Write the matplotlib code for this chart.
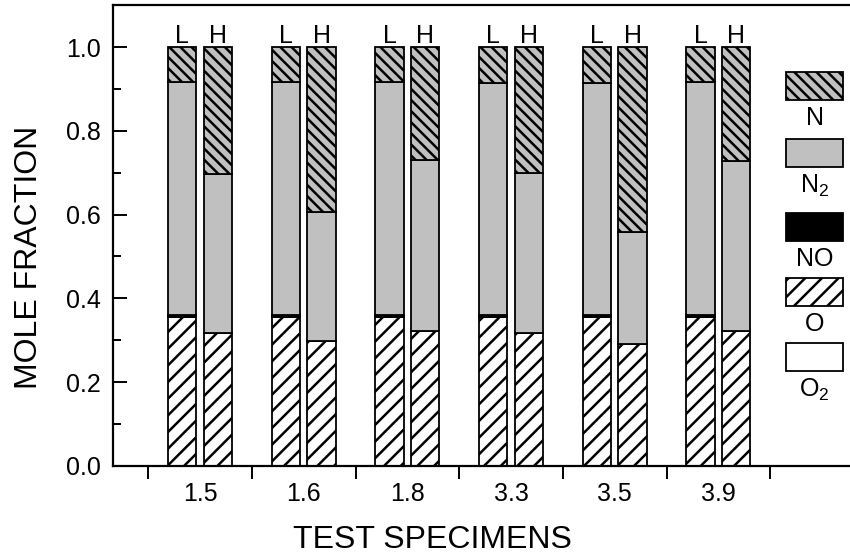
import matplotlib
matplotlib.use('Agg')
import matplotlib.pyplot as plt  # plotting
import numpy as np
from matplotlib.patches import Rectangle
from matplotlib.ticker import FixedLocator, MultipleLocator, FormatStrFormatter

plt.rcParams['font.family'] = ['Liberation Sans', 'DejaVu Sans']
plt.rcParams['hatch.linewidth'] = 1.8

# test specimens (x categories)
specimens = ['1.5', '1.6', '1.8', '3.3', '3.5', '3.9']

# L bars (mole fractions, bottom to top)
o2_L = [0.0, 0.0, 0.0, 0.0, 0.0, 0.0]
o_L = [0.355, 0.355, 0.356, 0.355, 0.355, 0.356]
no_L = [0.005, 0.005, 0.005, 0.005, 0.005, 0.005]
n2_L = [0.557, 0.557, 0.556, 0.554, 0.554, 0.557]
n_L = [0.083, 0.083, 0.083, 0.086, 0.086, 0.082]

# H bars
o2_H = [0.0, 0.0, 0.0, 0.0, 0.0, 0.0]
o_H = [0.316, 0.297, 0.321, 0.316, 0.291, 0.322]
no_H = [0.001, 0.001, 0.001, 0.001, 0.001, 0.001]
n2_H = [0.380, 0.309, 0.409, 0.382, 0.267, 0.406]
n_H = [0.303, 0.393, 0.269, 0.301, 0.441, 0.271]

# species styles: (label, facecolor, hatch)
styles = [
    ('O$_\\mathregular{2}$', 'white', None),
    ('O', 'white', '//'),
    ('NO', 'black', None),
    ('N$_\\mathregular{2}$', '#c0c0c0', None),
    ('N', '#c0c0c0', '\\\\\\'),
]

W, H = 850, 556
fig = plt.figure(figsize=(W / 100, H / 100), dpi=100)
ax = fig.add_axes([113 / W, (H - 465.7) / H, 1 - 113 / W, (465.7 - 5) / H])

x = np.arange(len(specimens))
width = 0.275
off = 0.172


def stack(xpos, layers):
    bottom = np.zeros(len(specimens))
    for vals, (lab, fc, hatch) in zip(layers, styles):
        vals = np.array(vals)
        ax.bar(xpos, vals, width, bottom=bottom, color=fc, edgecolor='black',
               linewidth=1.3, hatch=hatch)
        bottom += vals
    return bottom


top_L = stack(x - off, [o2_L, o_L, no_L, n2_L, n_L])
top_H = stack(x + off, [o2_H, o_H, no_H, n2_H, n_H])

for i in x:
    ax.text(i - off, top_L[i] + 0.01, 'L', ha='center', va='baseline', fontsize=18)
    ax.text(i + off, top_H[i] + 0.01, 'H', ha='center', va='baseline', fontsize=18)

ax.set_xlim(-0.84, 6.27)
ax.set_ylim(0, 1.101)

# Axes and ticks
ax.spines['right'].set_visible(False)
for s in ['left', 'bottom', 'top']:
    ax.spines[s].set_linewidth(1.6)

ax.set_xticks(x)
ax.set_xticklabels(specimens)
ax.xaxis.set_minor_locator(FixedLocator(np.arange(-0.5, len(specimens), 1)))
ax.tick_params(axis='x', which='major', length=0, pad=12, labelsize=18)
ax.tick_params(axis='x', which='minor', direction='out', length=9, width=1.4)

ax.yaxis.set_major_locator(MultipleLocator(0.2))
ax.yaxis.set_minor_locator(MultipleLocator(0.1))
ax.yaxis.set_major_formatter(FormatStrFormatter('%.1f'))
ax.tick_params(axis='y', which='major', direction='in', length=10, width=1.4,
               pad=9, labelsize=18)
ax.tick_params(axis='y', which='minor', direction='in', length=6, width=1.4)

ax.set_ylabel('MOLE FRACTION', fontsize=23)
ax.yaxis.set_label_coords(-0.094, 0.453)
ax.set_xlabel('TEST SPECIMENS', fontsize=23)
ax.xaxis.set_label_coords(0.433, -0.128)

# legend: boxes stacked with labels below (top to bottom: N, N2, NO, O, O2)
box_tops = [72, 139, 213, 278, 343]
box_x0, box_w, box_h = 786, 57, 28
for (lab, fc, hatch), ytop in zip(styles[::-1], box_tops):
    fig.add_artist(Rectangle((box_x0 / W, (H - ytop - box_h) / H), box_w / W, box_h / H,
                             transform=fig.transFigure, facecolor=fc,
                             edgecolor='black', linewidth=1.3, hatch=hatch))
    fig.text((box_x0 + box_w / 2) / W, (H - ytop - box_h - 6) / H, lab,
             ha='center', va='top', fontsize=18)

fig.savefig('out.png', dpi=100)
